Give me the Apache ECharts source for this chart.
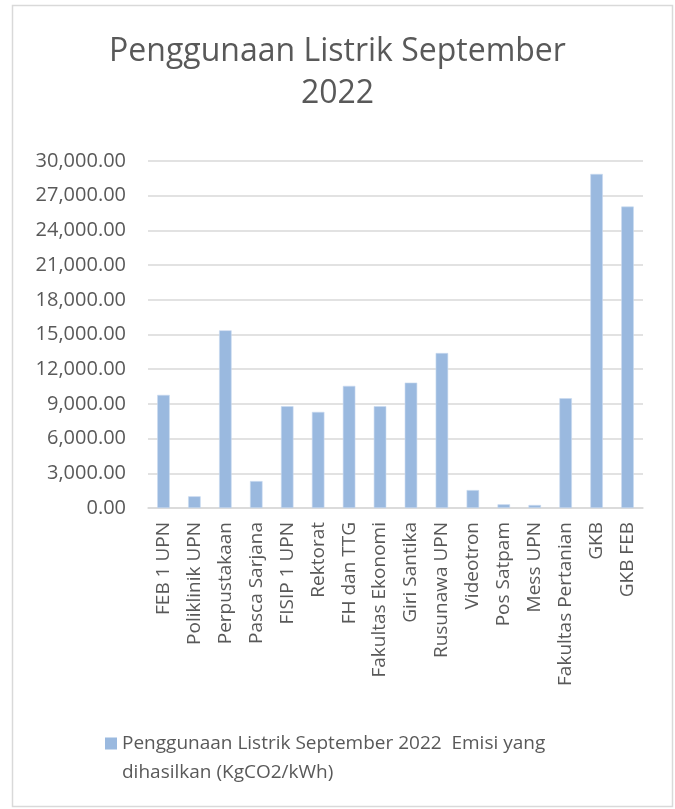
<!DOCTYPE html>
<html>
<head>
<meta charset="utf-8">
<script src="https://cdn.jsdelivr.net/npm/echarts@6/dist/echarts.min.js"></script>
<style>
  html, body { margin: 0; padding: 0; background: #fff; }
  #chart { width: 675px; height: 809px; }
</style>
</head>
<body>
<div id="chart"></div>
<script>
// data
const categories = [
  "FEB 1 UPN", "Poliklinik UPN", "Perpustakaan", "Pasca Sarjana", "FISIP 1 UPN",
  "Rektorat", "FH dan TTG", "Fakultas Ekonomi", "Giri Santika", "Rusunawa UPN",
  "Videotron", "Pos Satpam", "Mess UPN", "Fakultas Pertanian", "GKB", "GKB FEB"
];
const emisi = [
  9780, 1010, 15360, 2330, 8800,
  8310, 10560, 8800, 10840, 13400,
  1550, 320, 260, 9490, 28880, 26060
];
const seriesName = "Penggunaan Listrik September 2022  Emisi yang\ndihasilkan (KgCO2/kWh)";
const titleText = "Penggunaan Listrik September\n2022";

const textColor = "#595959";
const fontFam = "'Open Sans', 'Noto Sans', sans-serif";

function fmt(v) {
  return v.toFixed(2).replace(/\B(?=(\d{3})+(?!\d))/g, ",");
}

const chart = echarts.init(document.getElementById("chart"));
chart.setOption({
  animation: false,
  backgroundColor: "#fff",
  textStyle: { fontFamily: fontFam },
  graphic: [{
    type: "rect",
    shape: { x: 12.5, y: 5.5, width: 660, height: 801 },
    style: { fill: "none", stroke: "#D9D9D9", lineWidth: 1.5 },
    silent: true
  }],
  title: {
    text: titleText,
    left: "center",
    top: 26,
    textStyle: {
      color: textColor,
      fontSize: 32,
      fontWeight: "normal",
      lineHeight: 42,
      fontFamily: fontFam
    }
  },
  grid: { left: 148, right: 32, top: 161, bottom: 301, containLabel: false },
  legend: {
    left: 100,
    top: 724,
    itemWidth: 12,
    itemHeight: 41,
    itemGap: 8,
    // square sits next to the first text line, like the spreadsheet legend
    icon: "path://M0,0H12V12H0Z M0,40.95H0.05V41H0Z",
    itemStyle: { borderWidth: 0, color: "#9AB9DF" },
    textStyle: { color: textColor, fontSize: 19, lineHeight: 29, fontFamily: fontFam },
    data: [seriesName]
  },
  xAxis: {
    type: "category",
    data: categories,
    axisTick: { show: false },
    axisLine: { lineStyle: { color: "#D9D9D9", width: 1.5 } },
    axisLabel: {
      rotate: 90,
      interval: 0,
      margin: 14,
      color: textColor,
      fontSize: 19,
      fontFamily: fontFam
    }
  },
  yAxis: {
    type: "value",
    min: 0,
    max: 30000,
    interval: 3000,
    axisLine: { show: false },
    axisTick: { show: false },
    splitLine: { lineStyle: { color: "#D9D9D9", width: 1.5 } },
    axisLabel: {
      margin: 22,
      color: textColor,
      fontSize: 20,
      fontFamily: fontFam,
      formatter: fmt
    }
  },
  series: [{
    name: seriesName,
    type: "bar",
    data: emisi,
    barWidth: 12.5,
    itemStyle: { color: "#9AB9DF", borderColor: "#C9DAF0", borderWidth: 0.6 }
  }]
});
</script>
</body>
</html>
